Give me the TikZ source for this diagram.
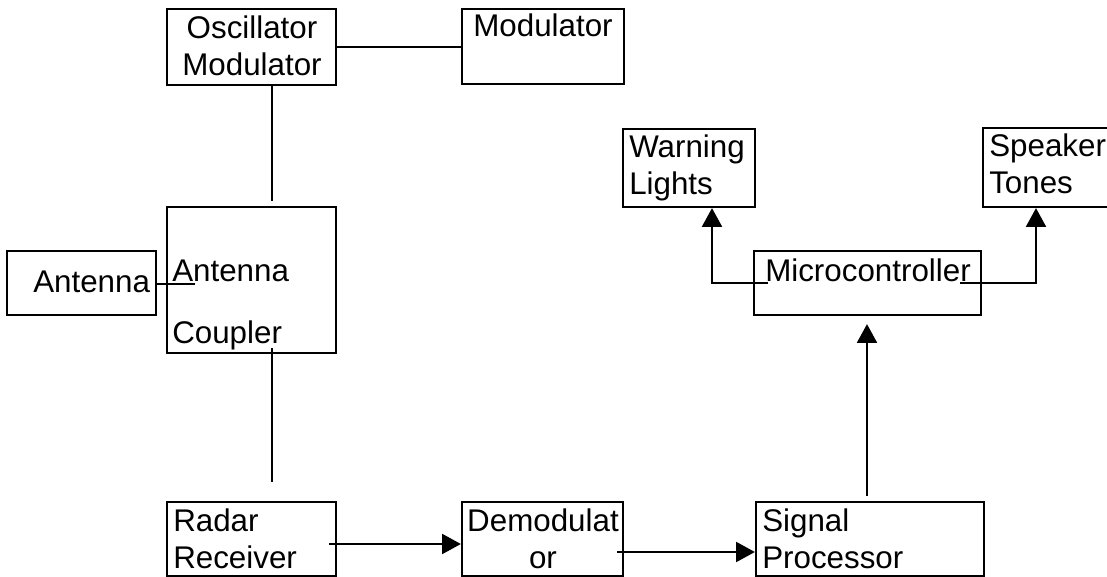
\documentclass[tikz,border=0pt]{standalone}
\usepackage{fontspec}
\setmainfont{Liberation Sans}
\usetikzlibrary{fit,arrows.meta}
\tikzset{
  box/.style={draw, line width=1.7pt, inner sep=0pt, fit={#1}},
  txt/.style={inner sep=0pt, align=left, font=\fontsize{23.5}{27.75}\selectfont},
  wire/.style={line width=1.2pt},
  arr/.style={line width=1.2pt, -{Triangle[length=14pt, width=15pt]}}
}
\begin{document}
\begin{tikzpicture}[x=0.75pt, y=-0.75pt]
\useasboundingbox (0,0) rectangle (1107,577);
% boxes
\node[box={(167,9) (336,85)}] (osc) {};
\node[box={(462,9) (624,84)}] (mod) {};
\node[box={(7,251) (156,315)}] (ant) {};
\node[box={(167,207) (336,353)}] (coup) {};
\node[box={(623,129) (755,207)}] (warn) {};
\node[box={(983,128) (1125,207)}] (spk) {};
\node[box={(754,251) (981,315)}] (micro) {};
\node[box={(167,502) (336,576)}] (radar) {};
\node[box={(462,502) (623,576)}] (demod) {};
\node[box={(756,502) (984,576)}] (sig) {};
% texts (base = last line)
\node[txt, align=center, anchor=base] at (252,76) {Oscillator\\Modulator};
\node[txt, anchor=base] at (543,37) {Modulator};
\node[txt, anchor=base west] at (33,293) {Antenna};
\node[txt, anchor=base west] at (172,282) {Antenna};
\node[txt, anchor=base west] at (172,344) {Coupler};
\node[txt, anchor=base west] at (629,195) {Warning\\Lights};
\node[txt, anchor=base west] at (989,194) {Speaker\\Tones};
\node[txt, anchor=base west] at (765,282) {Microcontroller};
\node[txt, anchor=base west] at (173,568) {Radar\\Receiver};
\node[txt, align=center, anchor=base] at (543,568) {Demodulat\\or};
\node[txt, anchor=base west] at (762,568) {Signal\\Processor};
% connectors
\coordinate (c1) at (272,201);
\coordinate (c2) at (272,348);
\coordinate (c3) at (272,482);
\coordinate (c4) at (195,284);
\coordinate (c5) at (329,544);
\coordinate (c6) at (617,552);
\coordinate (c7) at (867,496);
\coordinate (c8) at (768,283);
\coordinate (c9) at (712,283);
\coordinate (c10) at (960,283);
\coordinate (c11) at (1036,283);
\draw[wire] (osc.east) -- (mod.west |- osc.east);
\draw[wire] (osc.south -| c1) -- (c1);
\draw[wire] (c2) -- (c3);
\draw[wire] (ant.east |- c4) -- (c4);
\draw[arr] (c5) -- (demod.west |- c5);
\draw[arr] (c6) -- (sig.west |- c6);
\draw[arr, shorten >=6pt] (c7) -- (micro.south -| c7);
\draw[arr] (c8) -- (c9) -- (c9 |- warn.south);
\draw[arr] (c10) -- (c11) -- (c11 |- spk.south);
\end{tikzpicture}
\end{document}
